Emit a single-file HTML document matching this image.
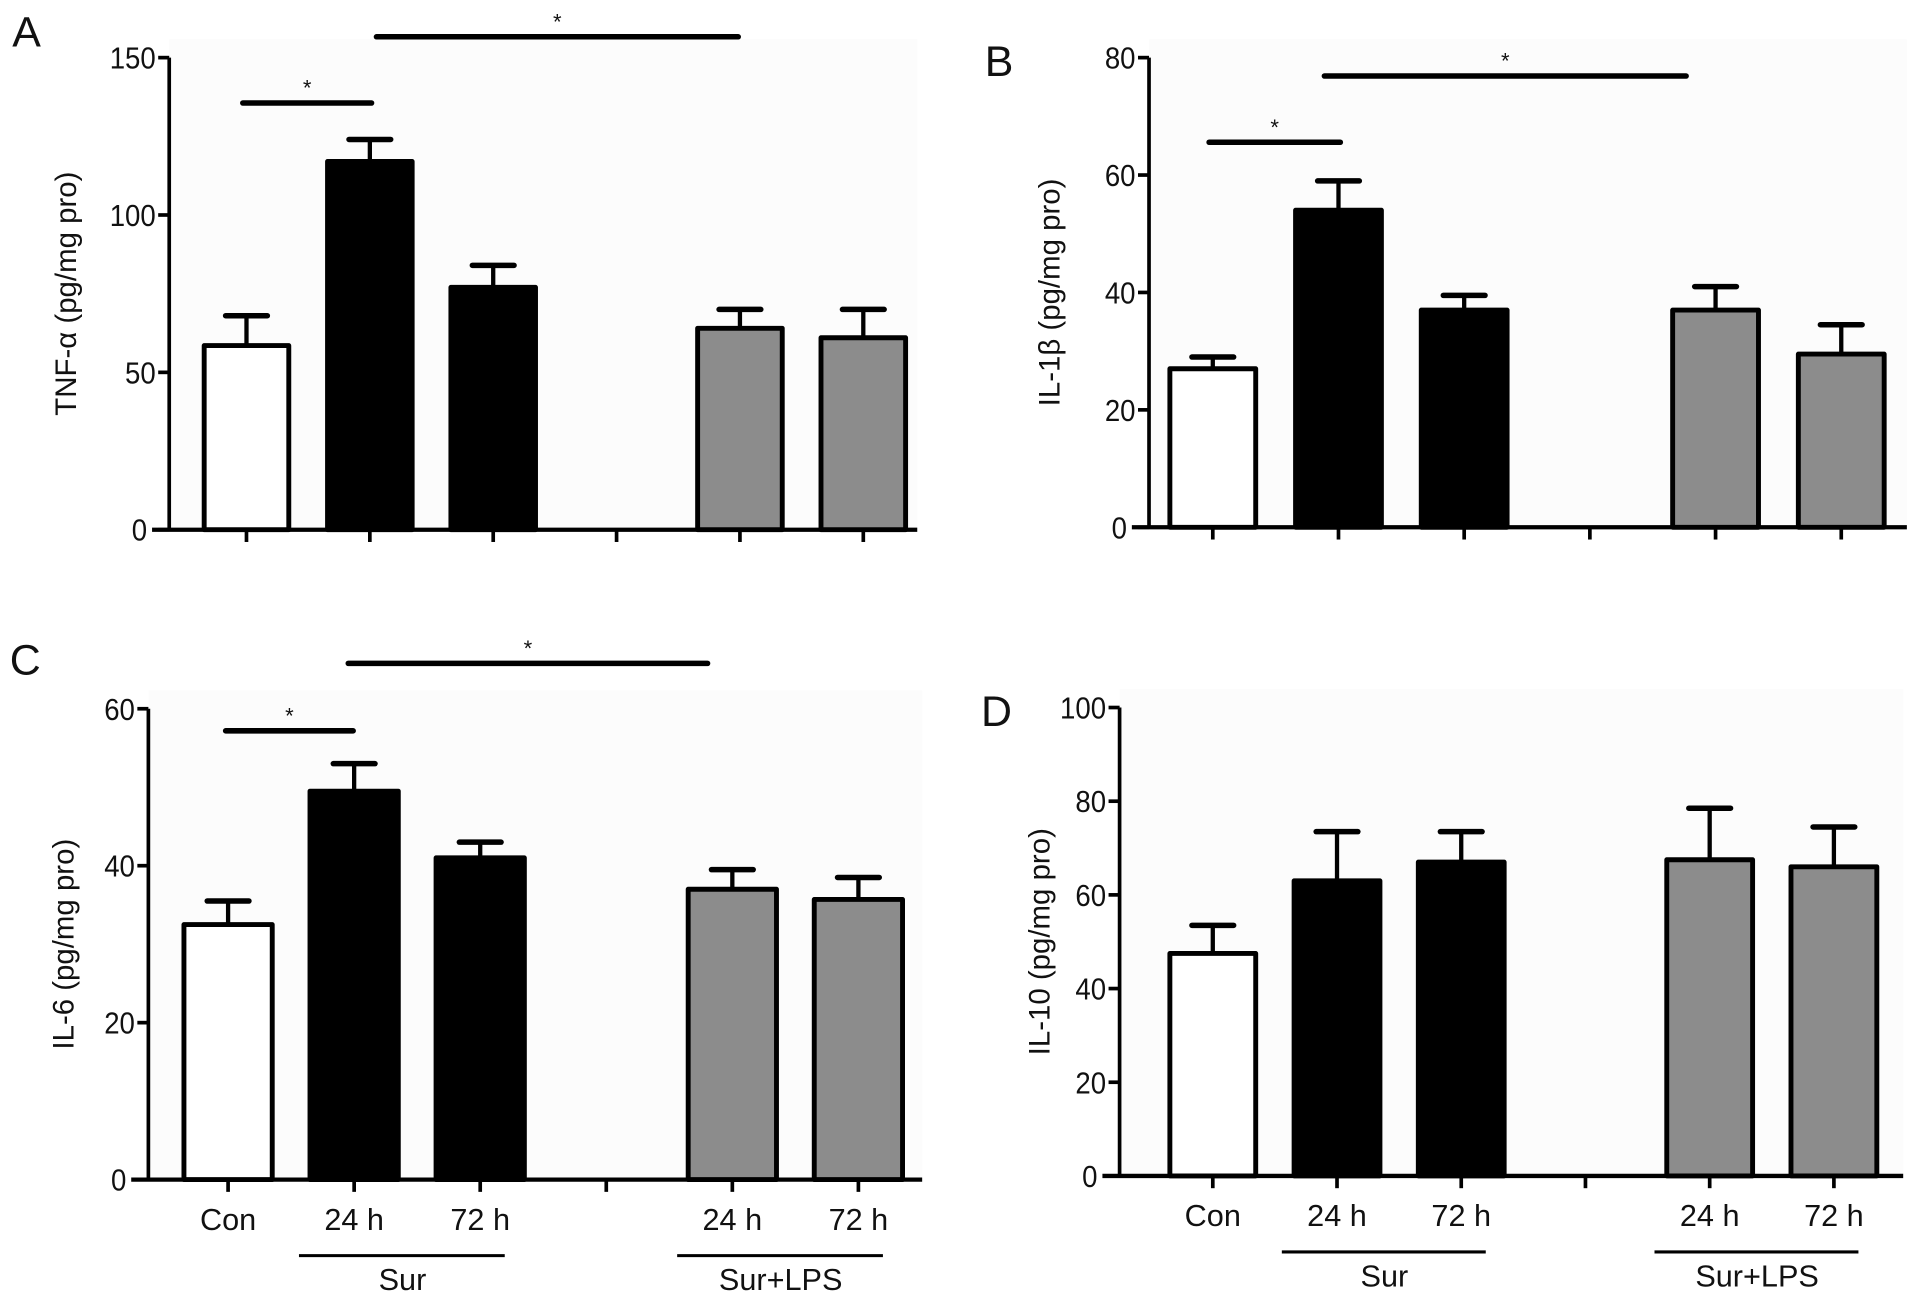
<!DOCTYPE html>
<html><head><meta charset="utf-8"><style>
html,body{margin:0;padding:0;background:#fff;}
svg{display:block;}
text{font-family:"Liberation Sans",Arial,sans-serif;fill:#111;}
</style></head><body>
<svg id="fig" width="1913" height="1301" viewBox="0 0 1560 1061" preserveAspectRatio="none" xmlns="http://www.w3.org/2000/svg"></svg>
<script>
const categories = ["Con","24 h","72 h","","24 h","72 h"];
const fills = ["#ffffff","#000000","#000000",null,"#8c8c8c","#8c8c8c"];
const tnfMeans = [58.5,117,77,null,64,61];
const tnfErr = [68,124,84,null,70,70];
const tnfTicks = [0,50,100,150];
const il1Means = [27,54,37,null,37,29.5];
const il1Err = [29,59,39.5,null,41,34.5];
const il1Ticks = [0,20,40,60,80];
const il6Means = [32.5,49.5,41,null,37,35.7];
const il6Err = [35.5,53,43,null,39.5,38.5];
const il6Ticks = [0,20,40,60];
const il10Means = [47.5,63,67,null,67.5,66];
const il10Err = [53.5,73.5,73.5,null,78.5,74.5];
const il10Ticks = [0,20,40,60,80,100];

const NS="http://www.w3.org/2000/svg";
const svg=document.getElementById('fig');
function mk(tag,attrs,parent){const e=document.createElementNS(NS,tag);for(const k in attrs)e.setAttribute(k,attrs[k]);(parent||svg).appendChild(e);return e;}

function panel(p){
  const g=mk('g',{});
  
  
  const ymax=p.ticks[p.ticks.length-1];
  const y=v=>p.y0-(p.y0-p.ytop)*v/ymax;
  const x=i=>p.x0+i*p.dx;
  mk('rect',{x:p.ax,y:p.ytop-15,width:p.xend-p.ax,height:p.y0-p.ytop+15,fill:'#fcfcfc'},g);
  const lt=mk('text',{x:p.lx,y:p.ly,'font-size':35},g);lt.textContent=p.letter;
  
  
  const ya=mk('line',{x1:p.ax,y1:p.ytop,x2:p.ax,y2:p.y0,stroke:'#000','stroke-width':3},g);
  
  
  p.ticks.forEach(t=>{
    mk('line',{x1:p.ax-9,y1:y(t),x2:p.ax,y2:y(t),stroke:'#000','stroke-width':3},g);
    const ex=p.ax-(t===0?18:11);
    const tl=mk('text',{x:ex,y:y(t)+9,'font-size':25,'text-anchor':'end',transform:`translate(${ex},0) scale(0.9,1) translate(${-ex},0)`},g);tl.textContent=t;
    
    
  });
  const yt=mk('text',{x:0,y:0,'font-size':24,'text-anchor':'middle',transform:`translate(${p.tx},${(p.ytop+p.y0)/2}) rotate(-90)`},g);
  yt.textContent=p.title;
  
  
  p.means.forEach((m,i)=>{
    if(m===null)return;
    const bw=p.bw, top=y(m);
    mk('line',{x1:x(i),y1:top,x2:x(i),y2:y(p.err[i]),stroke:'#000','stroke-width':3.5},g);
    mk('line',{x1:x(i)-17,y1:y(p.err[i]),x2:x(i)+17,y2:y(p.err[i]),stroke:'#000','stroke-width':4.5,'stroke-linecap':'round'},g);
    const b=mk('rect',{x:x(i)-bw/2,y:top,width:bw,height:p.y0-top,fill:fills[i],stroke:'#000','stroke-width':4,'stroke-linejoin':'round'},g);
    
    
  });
  const xa=mk('line',{x1:p.ax-14,y1:p.y0,x2:p.xend,y2:p.y0,stroke:'#000','stroke-width':3.5},g);
  
  
  categories.forEach((c,i)=>{
    mk('line',{x1:x(i),y1:p.y0,x2:x(i),y2:p.y0+10,stroke:'#000','stroke-width':3},g);
    if(p.labels&&c){
      const cl=mk('text',{x:x(i),y:p.y0+41,'font-size':25,'text-anchor':'middle'},g);cl.textContent=c;
      
      
    }
  });
  if(p.labels){
    [[1,2,'Sur'],[4,5,'Sur+LPS']].forEach(([a,b,t])=>{
      mk('line',{x1:x(a)-45,y1:p.y0+62,x2:x(b)+20,y2:p.y0+62,stroke:'#000','stroke-width':2.5},g);
      const gl=mk('text',{x:(x(a)+x(b))/2-12,y:p.y0+90,'font-size':25,'text-anchor':'middle'},g);gl.textContent=t;
      
      
    });
  }
  (p.sig||[]).forEach(s=>{
    const sl=mk('line',{x1:s[0],y1:s[2],x2:s[1],y2:s[2],stroke:'#000','stroke-width':4.5,'stroke-linecap':'round'},g);
    
    
    const st=mk('text',{x:(s[0]+s[1])/2,y:s[2]-6,'font-size':18,'text-anchor':'middle'},g);st.textContent='*';
  });
}

panel({name:'panel-a-tnf',letter:'A',lx:10,ly:38,ax:138,ytop:47,y0:432,xend:748,x0:201,dx:100.6,bw:69,tx:62,
  title:'TNF-\u03b1 (pg/mg pro)',ticks:tnfTicks,means:tnfMeans,err:tnfErr,labels:false,
  sig:[[198,303,84],[307,602,30]]});
panel({name:'panel-b-il1b',letter:'B',lx:803,ly:62,ax:937,ytop:47,y0:430,xend:1555,x0:989,dx:102.5,bw:70,tx:864,
  title:'IL-1\u03b2 (pg/mg pro)',ticks:il1Ticks,means:il1Means,err:il1Err,labels:false,
  sig:[[986,1093,116],[1080,1375,62]]});
panel({name:'panel-c-il6',letter:'C',lx:8,ly:550,ax:121,ytop:578,y0:962,xend:752,x0:186,dx:102.8,bw:72,tx:60,
  title:'IL-6  (pg/mg pro)',ticks:il6Ticks,means:il6Means,err:il6Err,labels:true,
  sig:[[184,288,596],[284,577,541]]});
panel({name:'panel-d-il10',letter:'D',lx:800,ly:592,ax:913,ytop:577,y0:959,xend:1552,x0:989,dx:101.3,bw:70,tx:856,
  title:'IL-10 (pg/mg pro)',ticks:il10Ticks,means:il10Means,err:il10Err,labels:true,sig:[]});
</script>
</body></html>
